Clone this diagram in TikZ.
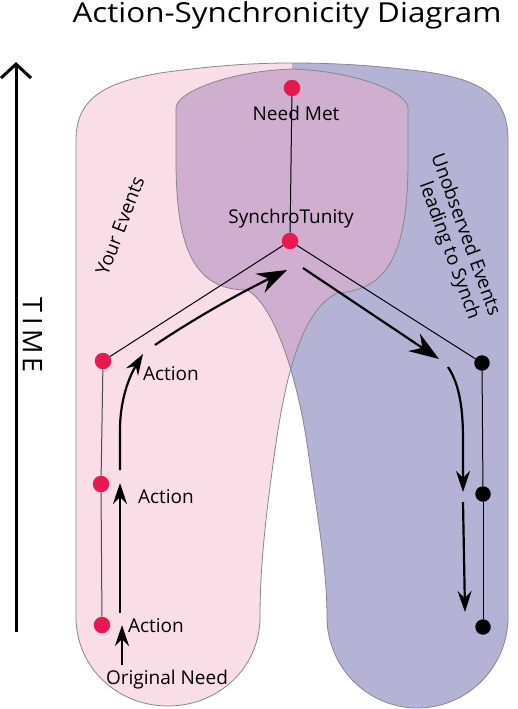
\documentclass[tikz,border=0pt]{standalone}
\usepackage{fontspec}
\setmainfont{Open Sans}
\usetikzlibrary{arrows.meta}
\definecolor{pinkfill}{RGB}{249,221,231}
\definecolor{bluefill}{RGB}{180,179,214}
\definecolor{purplefill}{RGB}{207,174,208}
\definecolor{edgegray}{RGB}{135,135,135}
\definecolor{dotred}{RGB}{233,24,80}
\begin{document}
\begin{tikzpicture}[x=1pt,y=-1pt,
  reddot/.style={circle,fill=dotred,inner sep=0pt,minimum size=16.5pt},
  blackdot/.style={circle,fill=black,inner sep=0pt,minimum size=15.5pt},
  thinline/.style={line width=1pt,black},
  greyline/.style={line width=1pt,black!70},
  outline/.style={edgegray,line width=0.8pt},
  flow/.style={line width=2.2pt,-{Stealth[length=21pt,width=14pt,inset=7pt]}},
  bigflow/.style={line width=2.2pt,-{Stealth[length=30pt,width=21pt,inset=10pt]}},
  lbl/.style={font=\fontsize{19}{21.5}\selectfont,inner sep=0pt},
]
\useasboundingbox (0,0) rectangle (517,709);
% ---------- fills ----------
\def\pinkpath{(76,617) -- (76,140) .. controls (76,95) and (110,82) .. (160,73)
  .. controls (210,66) and (250,63) .. (292,63) -- (292,250) -- (337,293)
  .. controls (300,312) and (285,380) .. (275,450)
  .. controls (265,520) and (260,570) .. (260,617)
  .. controls (260,667) and (219,706) .. (168,706)
  .. controls (117,706) and (76,667) .. (76,617) -- cycle}
\def\bluepath{(508,617) -- (508,140) .. controls (508,95) and (480,80) .. (427,72)
  .. controls (380,66) and (340,63) .. (292,63) -- (292,250) -- (247,290)
  .. controls (275,305) and (298,380) .. (308,450)
  .. controls (318,520) and (327,570) .. (327,617)
  .. controls (327,667) and (367.5,708) .. (417.5,708)
  .. controls (467.5,708) and (508,667) .. (508,617) -- cycle}
\fill[pinkfill] \pinkpath;
\fill[bluefill] \bluepath;
\begin{scope}
  \clip \pinkpath;
  \fill[purplefill] \bluepath;
\end{scope}
\fill[purplefill] (337,293) .. controls (390,290) and (408,250) .. (408,160) -- (408,108)
  .. controls (408,92) and (354,71) .. (292,69) .. controls (230,71) and (176,92) .. (176,108)
  -- (176,160) .. controls (176,250) and (195,290) .. (247,290) -- (292,250) -- cycle;
% ---------- outlines ----------
\draw[outline] (76,617) -- (76,140) .. controls (76,95) and (110,82) .. (160,73)
  .. controls (210,66) and (250,63) .. (292,63) .. controls (340,63) and (380,66) .. (427,72)
  .. controls (480,80) and (508,95) .. (508,140) -- (508,617);
\draw[outline] (508,617) .. controls (508,667) and (467.5,708) .. (417.5,708)
  .. controls (367.5,708) and (327,667) .. (327,617)
  .. controls (327,570) and (318,520) .. (308,450)
  .. controls (298,380) and (275,305) .. (247,290);
\draw[outline] (76,617) .. controls (76,667) and (117,706) .. (168,706)
  .. controls (219,706) and (260,667) .. (260,617)
  .. controls (260,570) and (265,520) .. (275,450)
  .. controls (285,380) and (300,312) .. (337,293);
\draw[outline] (247,290) .. controls (195,290) and (176,250) .. (176,160) -- (176,108)
  .. controls (176,92) and (230,71) .. (292,69) .. controls (354,71) and (408,92) .. (408,108)
  -- (408,160) .. controls (408,250) and (390,290) .. (337,293);
% ---------- title and time axis ----------
\node[font=\fontsize{27.5}{30}\selectfont,inner sep=0pt,anchor=base] (title) at (287,23) {\scalebox{1.14}[1]{Action-Synchronicity Diagram}};
\coordinate (timebot) at (16,632);
\coordinate (timetop) at (16,62);
\draw[line width=3pt,-{Straight Barb[length=14pt,width=30pt,line width=3pt]}] (timebot) -- (timetop);
\node[font=\fontsize{27}{30}\selectfont,inner sep=0pt,anchor=base,rotate=-90] (time) at (23,335) {T\kern5pt I\kern5pt M\kern4pt E};
% ---------- dots ----------
\node[reddot] (met) at (292,88) {};
\node[reddot] (syn) at (290,241) {};
\node[reddot] (r1) at (103,361) {};
\node[reddot] (r2) at (101,484) {};
\node[reddot] (r3) at (102,625) {};
\node[blackdot] (b1) at (482,363) {};
\node[blackdot] (b2) at (483,494) {};
\node[blackdot] (b3) at (483,627) {};
\draw[thinline] (met) -- (syn);
\draw[thinline] (syn) -- (r1);
\draw[thinline] (syn) -- (b1);
\draw[greyline] (r1) -- (r2);
\draw[greyline] (r2) -- (r3);
\draw[thinline] (b1) -- (b2);
\draw[thinline] (b2) -- (b3);
% ---------- labels ----------
\node[lbl,anchor=base] (metlbl) at (296,120) {Need Met};
\node[lbl,anchor=base] (synlbl) at (291,223) {SynchroTunity};
\node[lbl,anchor=base] (act1) at (171,380) {Action};
\node[lbl,anchor=base] (act2) at (166,503) {Action};
\node[lbl,anchor=base] (act3) at (156,632) {Action};
\node[lbl,anchor=base] (orig) at (167,684) {Original Need};
\node[lbl,rotate=69] (your) at (120,226) {Your Events};
\node[lbl,rotate=-70] (unobs1) at (467,234) {Unobserved Events};
\node[lbl,rotate=-70] (unobs2) at (449,251) {leading to Synch};
% ---------- flow arrows ----------
\coordinate (a1s) at (122,665); \coordinate (a1e) at (122,625);
\coordinate (a2s) at (120,613); \coordinate (a2e) at (120,483);
\coordinate (a3s) at (120,470); \coordinate (a3e) at (143,354);
\coordinate (a4s) at (155,345); \coordinate (a4e) at (287,270);
\coordinate (a5s) at (303,268); \coordinate (a5e) at (439,359);
\coordinate (a6s) at (448,367); \coordinate (a6e) at (463,492);
\coordinate (a7s) at (463,502); \coordinate (a7e) at (465,612);
\draw[flow] (a1s) -- (a1e);
\draw[flow] (a2s) -- (a2e);
\draw[flow] (a3s) -- (120,430) .. controls (120,395) and (132,372) .. (a3e);
\draw[bigflow] (a4s) .. controls (195,318) and (240,293) .. (a4e);
\draw[bigflow] (a5s) -- (a5e);
\draw[flow] (a6s) .. controls (460,385) and (463,410) .. (463,440) -- (a6e);
\draw[flow] (a7s) -- (a7e);
\end{tikzpicture}
\end{document}
